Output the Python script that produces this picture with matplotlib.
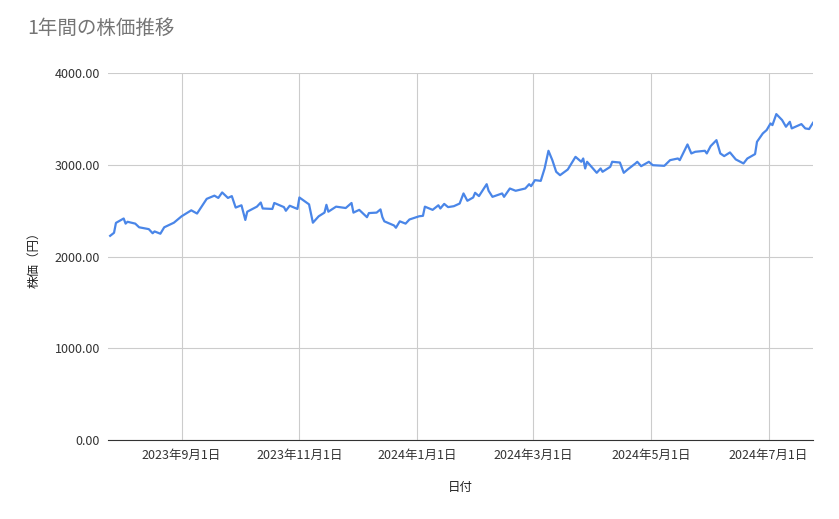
import matplotlib
matplotlib.use("Agg")
import matplotlib.pyplot as plt
import matplotlib.dates as mdates
import pandas as pd
from matplotlib.ticker import FuncFormatter

plt.rcParams['font.family'] = ['Noto Sans CJK JP', 'DejaVu Sans']

dates = ["2023-07-26","2023-07-28","2023-07-29","2023-08-02","2023-08-03","2023-08-04","2023-08-08","2023-08-10",
"2023-08-15","2023-08-17","2023-08-18","2023-08-21","2023-08-23","2023-08-28","2023-09-01","2023-09-06","2023-09-09",
"2023-09-14","2023-09-18","2023-09-20","2023-09-22","2023-09-25","2023-09-27","2023-09-29","2023-10-02","2023-10-04",
"2023-10-05","2023-10-10","2023-10-12","2023-10-13","2023-10-18","2023-10-19","2023-10-24","2023-10-25","2023-10-27",
"2023-10-31","2023-11-01","2023-11-06","2023-11-08","2023-11-11","2023-11-14","2023-11-15","2023-11-16","2023-11-20",
"2023-11-25","2023-11-28","2023-11-29","2023-12-02","2023-12-06","2023-12-07","2023-12-11","2023-12-13","2023-12-14",
"2023-12-15","2023-12-20","2023-12-21","2023-12-23","2023-12-26","2023-12-28","2024-01-02","2024-01-04","2024-01-05",
"2024-01-09","2024-01-12","2024-01-13","2024-01-15","2024-01-17","2024-01-20","2024-01-23","2024-01-25","2024-01-27",
"2024-01-30","2024-01-31","2024-02-02","2024-02-06","2024-02-07","2024-02-09","2024-02-14","2024-02-15","2024-02-18",
"2024-02-21","2024-02-26","2024-02-28","2024-02-29","2024-03-02","2024-03-05","2024-03-07","2024-03-09","2024-03-11",
"2024-03-13","2024-03-15","2024-03-19","2024-03-23","2024-03-26","2024-03-27","2024-03-28","2024-03-29","2024-04-03",
"2024-04-05","2024-04-06","2024-04-10","2024-04-11","2024-04-15","2024-04-17","2024-04-19","2024-04-23","2024-04-24",
"2024-04-26","2024-04-30","2024-05-02","2024-05-08","2024-05-11","2024-05-15","2024-05-16","2024-05-20","2024-05-22",
"2024-05-24","2024-05-29","2024-05-30","2024-06-01","2024-06-04","2024-06-06","2024-06-08","2024-06-11","2024-06-14",
"2024-06-18","2024-06-20","2024-06-24","2024-06-25","2024-06-28","2024-06-30","2024-07-02","2024-07-03","2024-07-05",
"2024-07-08","2024-07-10","2024-07-12","2024-07-13","2024-07-18","2024-07-20","2024-07-22","2024-07-24"]
prices = [2227,2260,2368,2416,2360,2380,2360,2320,2300,2255,2275,2250,2320,2370,2440,2505,2470,2630,2665,2640,
2700,2640,2660,2535,2560,2400,2490,2545,2590,2525,2520,2585,2540,2500,2555,2520,2645,2570,2370,2440,2480,2565,
2490,2545,2530,2585,2480,2510,2430,2475,2480,2515,2430,2385,2340,2315,2385,2360,2405,2440,2445,2545,2510,2560,
2525,2575,2540,2550,2579,2689,2609,2645,2696,2660,2790,2718,2652,2689,2652,2743,2718,2743,2790,2768,2834,2826,
2961,3154,3052,2925,2888,2950,3088,3034,3070,2961,3034,2914,2961,2925,2979,3034,3026,2914,2950,3015,3034,2986,
3034,2997,2990,3052,3070,3052,3223,3125,3143,3154,3125,3205,3270,3125,3096,3136,3060,3016,3070,3118,3252,3343,
3380,3452,3434,3554,3489,3416,3470,3398,3445,3398,3391,3459]
tick_dates = ["2023-09-01","2023-11-01","2024-01-01","2024-03-01","2024-05-01","2024-07-01"]
y_ticks = [0, 1000, 2000, 3000, 4000]

x = pd.to_datetime(dates)
fig = plt.figure(figsize=(8.39, 5.19), dpi=100)
ax = fig.add_axes([0.129, 0.152, 0.840, 0.707])
ax.plot(x, prices, color="#4a86e8", lw=1.6)
ax.set_xlim(pd.Timestamp("2023-07-25"), pd.Timestamp("2024-07-24"))
ax.set_ylim(0, 4000)
ax.set_yticks(y_ticks)
ax.yaxis.set_major_formatter(FuncFormatter(lambda v, p: f"{v:.2f}"))
tds = pd.to_datetime(tick_dates)
ax.set_xticks(tds)
ax.set_xticklabels([f"{d.year}年{d.month}月{d.day}日" for d in tds])
ax.grid(True, color="#cccccc", lw=0.8)
ax.set_axisbelow(True)
for s in ["top", "right", "left"]:
    ax.spines[s].set_visible(False)
ax.spines["bottom"].set_color("#333333")
ax.tick_params(length=0, labelsize=9, colors="#333333", pad=6)
ax.set_xlabel("日付", fontsize=9, color="#222222", labelpad=14)
ax.set_ylabel("株価（円）", fontsize=9, color="#222222", labelpad=10)
fig.text(0.033, 0.945, "1年間の株価推移", fontsize=14, color="#757575", va="center")
fig.savefig("out.png", dpi=100)
